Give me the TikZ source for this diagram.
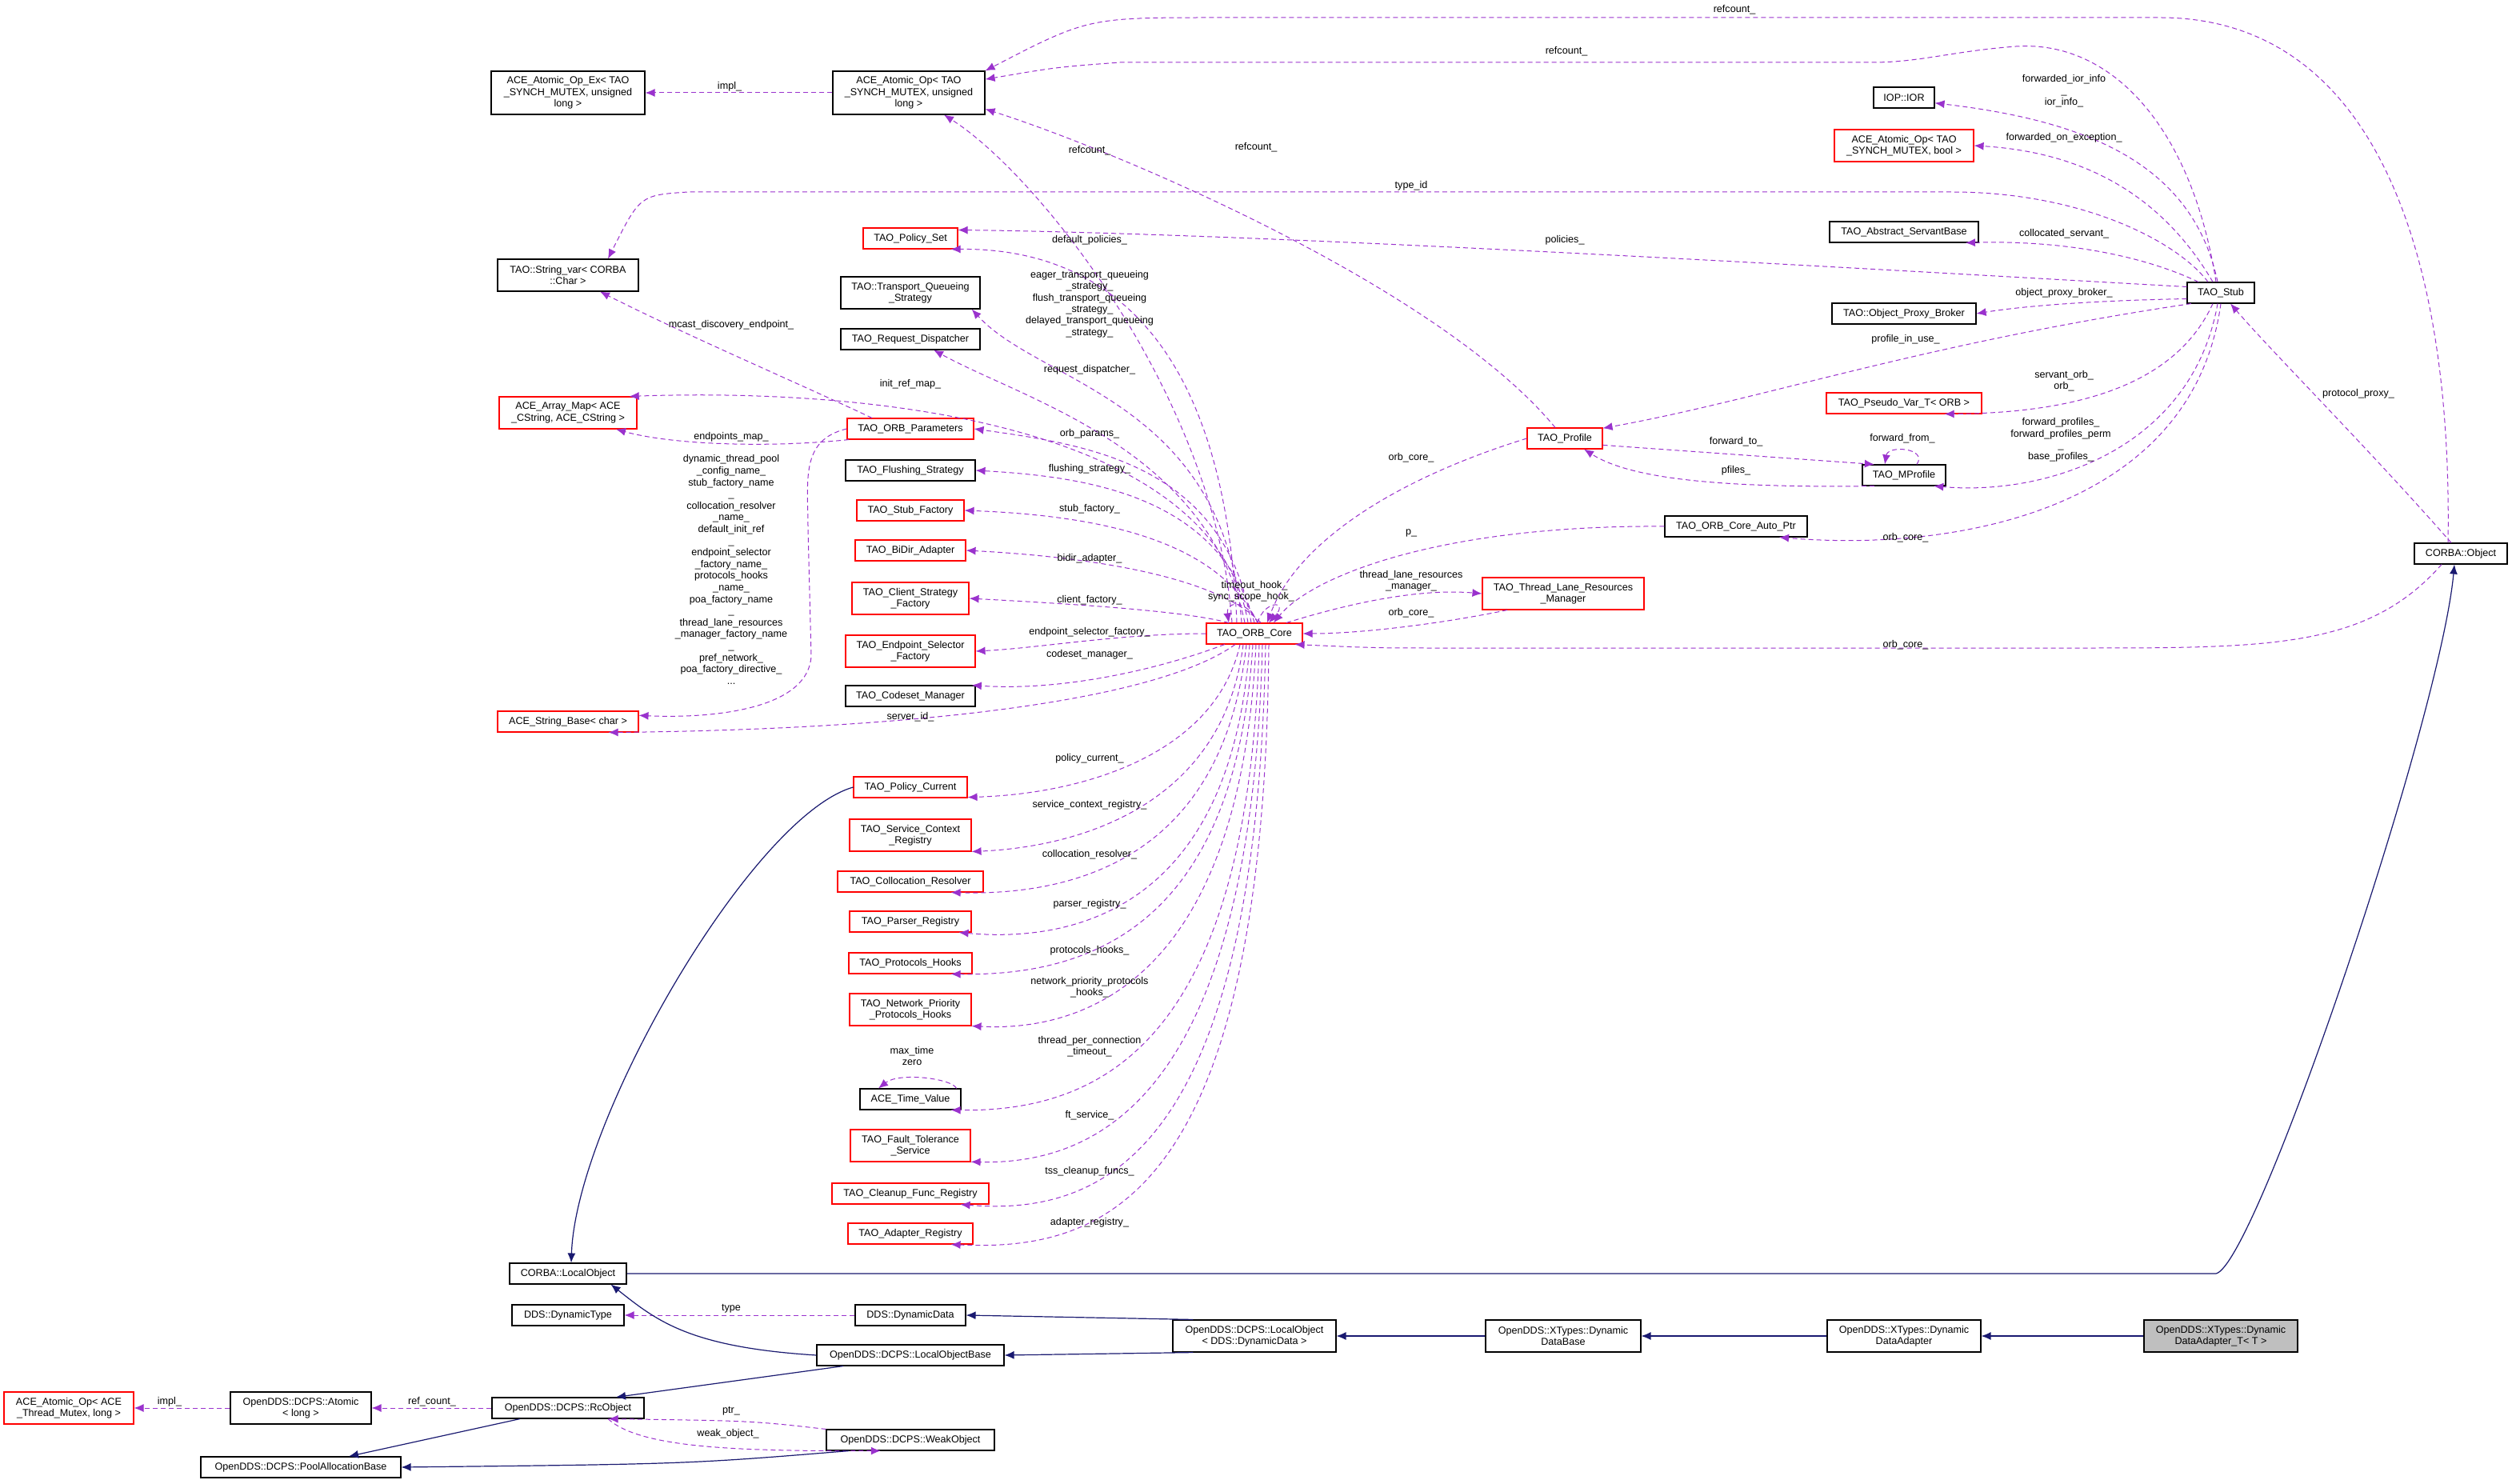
\documentclass[tikz,border=0pt]{standalone}
\usepackage{fontspec}
\setmainfont{Liberation Sans}
\usetikzlibrary{arrows.meta}
\definecolor{dcol}{HTML}{9A32CD}
\definecolor{icol}{HTML}{191970}
\begin{document}
\begin{tikzpicture}[x=1pt,y=-1pt,
  every node/.style={font=\fontsize{6.3}{7.2}\selectfont,align=center,inner sep=1pt},
  bk/.style={draw=black,line width=0.55pt,fill=white},
  rd/.style={draw=red,line width=0.55pt,fill=white},
  h1/.style={minimum height=13},
  h2/.style={minimum height=20},
  h3/.style={minimum height=27},
  lab/.style={inner sep=0pt},
  dep/.style={draw=dcol,line width=0.5pt,dash pattern=on 3pt off 2pt,-{Latex[length=6pt,width=5pt]}},
  inh/.style={draw=icol,line width=0.6pt,-{Latex[length=6pt,width=5pt]}}]
\fill[white] (0,0) rectangle (1570,927.5);
\useasboundingbox (0,0) rectangle (1570,927.5);
% nodes
\node[bk,h3,minimum width=96] (ex) at (355,58) {ACE\_Atomic\_Op\_Ex< TAO\\\_SYNCH\_MUTEX, unsigned\\long >};
\node[bk,h3,minimum width=95] (aul) at (568,58) {ACE\_Atomic\_Op< TAO\\\_SYNCH\_MUTEX, unsigned\\long >};
\node[bk,h2,minimum width=88] (sv) at (355,172) {TAO::String\_var< CORBA\\::Char >};
\node[rd,h2,minimum width=86] (am) at (355,258) {ACE\_Array\_Map< ACE\\\_CString, ACE\_CString >};
\node[rd,h1,minimum width=88] (sb) at (355,451) {ACE\_String\_Base< char >};
\node[rd,h1,minimum width=59] (ps) at (569,149) {TAO\_Policy\_Set};
\node[bk,h2,minimum width=87] (tqs) at (569,183) {TAO::Transport\_Queueing\\\_Strategy};
\node[bk,h1,minimum width=87] (rdis) at (569,212) {TAO\_Request\_Dispatcher};
\node[rd,h1,minimum width=79] (par) at (569,268) {TAO\_ORB\_Parameters};
\node[bk,h1,minimum width=81] (fs) at (569,294) {TAO\_Flushing\_Strategy};
\node[rd,h1,minimum width=67] (sf) at (569,319) {TAO\_Stub\_Factory};
\node[rd,h1,minimum width=69] (bd) at (569,344) {TAO\_BiDir\_Adapter};
\node[rd,h2,minimum width=73] (csf) at (569,374) {TAO\_Client\_Strategy\\\_Factory};
\node[rd,h2,minimum width=81] (esf) at (569,407) {TAO\_Endpoint\_Selector\\\_Factory};
\node[bk,h1,minimum width=81] (cm) at (569,435) {TAO\_Codeset\_Manager};
\node[rd,h1,minimum width=60] (orb) at (784,396) {TAO\_ORB\_Core};
\node[rd,h1,minimum width=47] (prof) at (978,274) {TAO\_Profile};
\node[rd,h2,minimum width=101] (tlrm) at (977,371) {TAO\_Thread\_Lane\_Resources\\\_Manager};
\node[bk,h1,minimum width=38] (ior) at (1190,61) {IOP::IOR};
\node[rd,h2,minimum width=87] (abool) at (1190,91) {ACE\_Atomic\_Op< TAO\\\_SYNCH\_MUTEX, bool >};
\node[bk,h1,minimum width=93] (asb) at (1190,145) {TAO\_Abstract\_ServantBase};
\node[bk,h1,minimum width=90] (opb) at (1190,196) {TAO::Object\_Proxy\_Broker};
\node[rd,h1,minimum width=97] (pv) at (1190,252) {TAO\_Pseudo\_Var\_T< ORB >};
\node[bk,h1,minimum width=52] (mp) at (1190,297) {TAO\_MProfile};
\node[bk,h1,minimum width=89] (oap) at (1085,329) {TAO\_ORB\_Core\_Auto\_Ptr};
\node[bk,h1,minimum width=42] (stub) at (1388,183) {TAO\_Stub};
\node[bk,h1,minimum width=58] (obj) at (1538,346) {CORBA::Object};
\node[rd,h1,minimum width=71] (pc) at (569,492) {TAO\_Policy\_Current};
\node[rd,h2,minimum width=76] (scr) at (569,522) {TAO\_Service\_Context\\\_Registry};
\node[rd,h1,minimum width=91] (cr) at (569,551) {TAO\_Collocation\_Resolver};
\node[rd,h1,minimum width=76] (pr) at (569,576) {TAO\_Parser\_Registry};
\node[rd,h1,minimum width=77] (ph) at (569,602) {TAO\_Protocols\_Hooks};
\node[rd,h2,minimum width=76] (npph) at (569,631) {TAO\_Network\_Priority\\\_Protocols\_Hooks};
\node[bk,h1,minimum width=63] (tv) at (569,687) {ACE\_Time\_Value};
\node[rd,h2,minimum width=75] (fts) at (569,716) {TAO\_Fault\_Tolerance\\\_Service};
\node[rd,h1,minimum width=98] (cfr) at (569,746) {TAO\_Cleanup\_Func\_Registry};
\node[rd,h1,minimum width=78] (ar) at (569,771) {TAO\_Adapter\_Registry};
\node[bk,h1,minimum width=73] (lo) at (355,796) {CORBA::LocalObject};
\node[bk,h1,minimum width=70] (dt) at (355,822) {DDS::DynamicType};
\node[bk,h1,minimum width=69] (dd) at (569,822) {DDS::DynamicData};
\node[bk,h1,minimum width=117] (lob) at (569,847) {OpenDDS::DCPS::LocalObjectBase};
\node[bk,h2,minimum width=102] (lodd) at (784,835) {OpenDDS::DCPS::LocalObject\\< DDS::DynamicData >};
\node[bk,h2,minimum width=97] (ddb) at (977,835) {OpenDDS::XTypes::Dynamic\\DataBase};
\node[bk,h2,minimum width=96] (dda) at (1190,835) {OpenDDS::XTypes::Dynamic\\DataAdapter};
\node[bk,h2,minimum width=96,fill=black!25] (ddat) at (1388,835) {OpenDDS::XTypes::Dynamic\\DataAdapter\_T< T >};
\node[bk,h1,minimum width=105] (wo) at (569,900) {OpenDDS::DCPS::WeakObject};
\node[bk,h1,minimum width=95] (rc) at (355,880) {OpenDDS::DCPS::RcObject};
\node[bk,h2,minimum width=88] (at) at (188,880) {OpenDDS::DCPS::Atomic\\< long >};
\node[rd,h2,minimum width=81] (aam) at (43,880) {ACE\_Atomic\_Op< ACE\\\_Thread\_Mutex, long >};
\node[bk,h1,minimum width=125] (pab) at (188,917) {OpenDDS::DCPS::PoolAllocationBase};
% top dependency edges
\draw[dep] (aul.west) -- (ex.east);
\node[lab] at (456,54) {impl\_};
\draw[dep] ([xshift=-8]obj.north) .. controls (1533,150) and (1480,11) .. (1350,11) -- (760,11) .. controls (680,11) .. (aul.north east);
\node[lab] at (1084,6) {refcount\_};
\draw[dep] ([xshift=-3]stub.north) .. controls (1370,80) and (1320,25) .. (1260,29) .. controls (1220,32) and (1200,39) .. (1170,39) -- (700,39) .. controls (660,42) .. (aul.10);
\node[lab] at (979,32) {refcount\_};
\draw[dep] ([xshift=-6]prof.north) .. controls (900,180) and (700,95) .. (aul.-12);
\node[lab] at (785,92) {refcount\_};
\draw[dep] ([xshift=-14]orb.north) .. controls (760,250) and (650,110) .. ([xshift=22]aul.south);
\node[lab] at (681,94) {refcount\_};
\draw[dep] ([xshift=-8]stub.north) .. controls (1360,150) and (1300,120) .. (1220,120) -- (430,120) .. controls (400,122) .. ([xshift=25]sv.north);
\node[lab] at (882,116) {type\_id};
\draw[dep] (stub.170) .. controls (1200,170) and (800,146) .. (ps.10);
\node[lab] at (978,150) {policies\_};
\draw[dep] ([xshift=-11]orb.north) .. controls (765,200) and (680,155) .. (ps.-15);
\node[lab] at (681,150) {default\_policies\_};
\draw[dep] ([xshift=-8]orb.north) .. controls (765,250) and (650,240) .. (tqs.-15);
\node[lab] at (681,190) {eager\_transport\_queueing\\\_strategy\_\\flush\_transport\_queueing\\\_strategy\_\\delayed\_transport\_queueing\\\_strategy\_};
\draw[dep] ([xshift=-6]orb.north) .. controls (755,280) and (640,250) .. (rdis.-25);
\node[lab] at (681,231) {request\_dispatcher\_};
\draw[dep] ([xshift=-4]orb.north) .. controls (760,270) and (560,242) .. (am.15);
\node[lab] at (569,240) {init\_ref\_map\_};
\draw[dep] ([xshift=-2]orb.north) .. controls (765,290) and (680,278) .. (par.east);
\node[lab] at (681,271) {orb\_params\_};
\draw[dep] ([xshift=0]orb.north) .. controls (762,310) and (680,298) .. (fs.east);
\node[lab] at (681,293) {flushing\_strategy\_};
\draw[dep] ([xshift=2]orb.north) .. controls (760,335) and (680,322) .. (sf.east);
\node[lab] at (681,318) {stub\_factory\_};
\draw[dep] ([xshift=4]orb.north) .. controls (760,360) and (680,348) .. (bd.east);
\node[lab] at (681,349) {bidir\_adapter\_};
\draw[dep] ([xshift=-16]orb.north) .. controls (740,382) and (680,378) .. (csf.east);
\node[lab] at (681,375) {client\_factory\_};
\draw[dep] (orb.west) .. controls (700,396) and (650,405) .. (esf.east);
\node[lab] at (681,395) {endpoint\_selector\_factory\_};
\draw[dep] (orb.200) .. controls (720,420) and (660,432) .. (cm.10);
\node[lab] at (681,409) {codeset\_manager\_};
\draw[dep] ([xshift=-12]orb.south) .. controls (720,440) and (560,456) .. (sb.-15);
\node[lab] at (569,448) {server\_id\_};
% self loop
\draw[dep] ([xshift=2]orb.north) .. controls (780,375) and (766,375) .. ([xshift=-16]orb.north);
\draw[dep] ([xshift=2]orb.north) .. controls (790,375) and (806,375) .. ([xshift=9]orb.north);
\node[lab] at (784,366) {timeout\_hook\_};
\node[lab] at (782,373) {sync\_scope\_hook\_};
% lower left column edges
\draw[dep] ([xshift=-9]orb.south) .. controls (760,470) and (680,496) .. (pc.-10);
\node[lab] at (681,474) {policy\_current\_};
\draw[dep] ([xshift=-7]orb.south) .. controls (765,500) and (680,529) .. (scr.-15);
\node[lab] at (681,503) {service\_context\_registry\_};
\draw[dep] ([xshift=-5]orb.south) .. controls (765,530) and (680,560) .. (cr.-15);
\node[lab] at (681,534) {collocation\_resolver\_};
\draw[dep] ([xshift=-3]orb.south) .. controls (770,560) and (680,590) .. ([xshift=-8]pr.south east);
\node[lab] at (681,565) {parser\_registry\_};
\draw[dep] ([xshift=-1]orb.south) .. controls (772,580) and (680,610) .. (ph.-15);
\node[lab] at (681,594) {protocols\_hooks\_};
\draw[dep] ([xshift=1]orb.south) .. controls (775,610) and (680,645) .. (npph.-15);
\node[lab] at (681,617) {network\_priority\_protocols\\\_hooks\_};
\draw[dep] ([xshift=3]orb.south) .. controls (780,650) and (690,695) .. (tv.-15);
\node[lab] at (681,654) {thread\_per\_connection\\\_timeout\_};
\draw[dep] ([xshift=5]orb.south) .. controls (782,680) and (690,728) .. (fts.-15);
\node[lab] at (681,697) {ft\_service\_};
\draw[dep] ([xshift=7]orb.south) .. controls (785,720) and (690,760) .. ([xshift=-18]cfr.south east);
\node[lab] at (681,732) {tss\_cleanup\_funcs\_};
\draw[dep] ([xshift=9]orb.south) .. controls (790,750) and (690,782) .. (ar.-15);
\node[lab] at (681,764) {adapter\_registry\_};
\draw[dep] ([xshift=-3]tv.north east) .. controls (595,674) and (562,670) .. ([xshift=-20]tv.north);
\node[lab] at (570,660) {max\_time\\zero};
% ORB parameters edges
\draw[dep] ([xshift=-24]par.north) .. controls (500,240) and (430,210) .. ([xshift=20]sv.south);
\node[lab] at (457,203) {mcast\_discovery\_endpoint\_};
\draw[dep] (par.190) .. controls (480,280) and (420,278) .. ([xshift=30]am.south);
\node[lab] at (457,273) {endpoints\_map\_};
\draw[dep] (par.west) .. controls (500,275) and (505,300) .. (505,330) -- (507,410) .. controls (505,445) and (440,449) .. (sb.5);
\node[lab,font=\fontsize{6.3}{7.3}\selectfont] at (457,356) {dynamic\_thread\_pool\\\_config\_name\_\\stub\_factory\_name\\\_\\collocation\_resolver\\\_name\_\\default\_init\_ref\\\_\\endpoint\_selector\\\_factory\_name\_\\protocols\_hooks\\\_name\_\\poa\_factory\_name\\\_\\thread\_lane\_resources\\\_manager\_factory\_name\\\_\\pref\_network\_\\poa\_factory\_directive\_\\...};
% right side
\draw[dep] (prof.west) .. controls (870,300) and (810,340) .. ([xshift=8]orb.north);
\node[lab] at (882,286) {orb\_core\_};
\draw[dep] (oap.west) .. controls (900,328) and (820,360) .. ([xshift=12]orb.north);
\node[lab] at (882,333) {p\_};
\draw[dep] ([xshift=20]orb.north) .. controls (850,375) and (890,368) .. (tlrm.west);
\node[lab] at (882,363) {thread\_lane\_resources\\\_manager\_};
\draw[dep] ([xshift=-35]tlrm.south) .. controls (900,390) and (850,396) .. (orb.east);
\node[lab] at (882,383) {orb\_core\_};
\draw[dep] ([xshift=-12]obj.south) .. controls (1480,405) and (1420,405) .. (1300,405) -- (900,405) .. controls (860,405) .. (orb.-15);
\node[lab] at (1191,403) {orb\_core\_};
\draw[dep] ([xshift=-2]stub.north) .. controls (1370,100) and (1300,75) .. (ior.-10);
\node[lab] at (1290,57) {forwarded\_ior\_info\\\_\\ior\_info\_};
\draw[dep] ([xshift=-5]stub.north) .. controls (1350,120) and (1300,95) .. (abool.east);
\node[lab] at (1290,86) {forwarded\_on\_exception\_};
\draw[dep] ([xshift=-14]stub.north) .. controls (1340,160) and (1290,150) .. (asb.-10);
\node[lab] at (1290,146) {collocated\_servant\_};
\draw[dep] (stub.190) .. controls (1300,188) and (1260,192) .. (opb.east);
\node[lab] at (1290,183) {object\_proxy\_broker\_};
\draw[dep] (stub.200) .. controls (1200,215) and (1100,250) .. (prof.15);
\node[lab] at (1191,212) {profile\_in\_use\_};
\draw[dep] ([xshift=-5]stub.south) .. controls (1360,240) and (1300,258) .. (pv.-15);
\node[lab] at (1290,238) {servant\_orb\_\\orb\_};
\draw[dep] ([xshift=-2]stub.south) .. controls (1370,280) and (1280,310) .. (mp.-20);
\node[lab] at (1288,275) {forward\_profiles\_\\forward\_profiles\_perm\\\_\\base\_profiles\_};
\draw[dep] ([xshift=0]stub.south) .. controls (1370,320) and (1220,345) .. ([xshift=27]oap.south);
\node[lab] at (1191,336) {orb\_core\_};
\draw[dep] (prof.-10) -- (mp.160);
\node[lab] at (1085,276) {forward\_to\_};
\draw[dep] (mp.200) .. controls (1080,305) and (1020,300) .. ([xshift=12]prof.south);
\node[lab] at (1085,294) {pfiles\_};
\draw[dep] ([xshift=8]mp.north) .. controls (1205,280) and (1180,278) .. ([xshift=-12]mp.north);
\node[lab] at (1189,274) {forward\_from\_};
\draw[dep] ([xshift=-6]obj.north) .. controls (1480,280) and (1420,220) .. ([xshift=6]stub.south);
\node[lab] at (1474,246) {protocol\_proxy\_};
% bottom
\draw[dep] (dd.west) -- (dt.east);
\node[lab] at (457,818) {type};
\draw[dep] (rc.west) -- (at.east);
\node[lab] at (270,876) {ref\_count\_};
\draw[dep] (at.west) -- (aam.east);
\node[lab] at (106,876) {impl\_};
\draw[dep] (wo.north west) .. controls (470,888) .. (rc.-15);
\node[lab] at (457,882) {ptr\_};
\draw[dep] ([xshift=25]rc.south) .. controls (400,905) and (460,907) .. (wo.200);
\node[lab] at (455,896) {weak\_object\_};
% inheritance
\draw[inh] (pc.west) .. controls (470,510) and (360,700) .. ([xshift=2]lo.north);
\draw[inh] (lo.east) -- (1385,796) .. controls (1410,790) and (1525,450) .. ([xshift=-4]obj.south);
\draw[inh] (lob.west) .. controls (430,842) and (410,825) .. ([xshift=-10]lo.south east);
\draw[inh] (lodd.165) -- (dd.east);
\draw[inh] (lodd.195) -- (lob.east);
\draw[inh] (ddb.west) -- (lodd.east);
\draw[inh] (dda.west) -- (ddb.east);
\draw[inh] (ddat.west) -- (dda.east);
\draw[inh] ([xshift=-42]lob.south) -- ([xshift=30]rc.north);
\draw[inh] ([xshift=-30]rc.south) -- ([xshift=30]pab.north);
\draw[inh] (wo.190) .. controls (430,915) .. (pab.east);
\end{tikzpicture}
\end{document}
